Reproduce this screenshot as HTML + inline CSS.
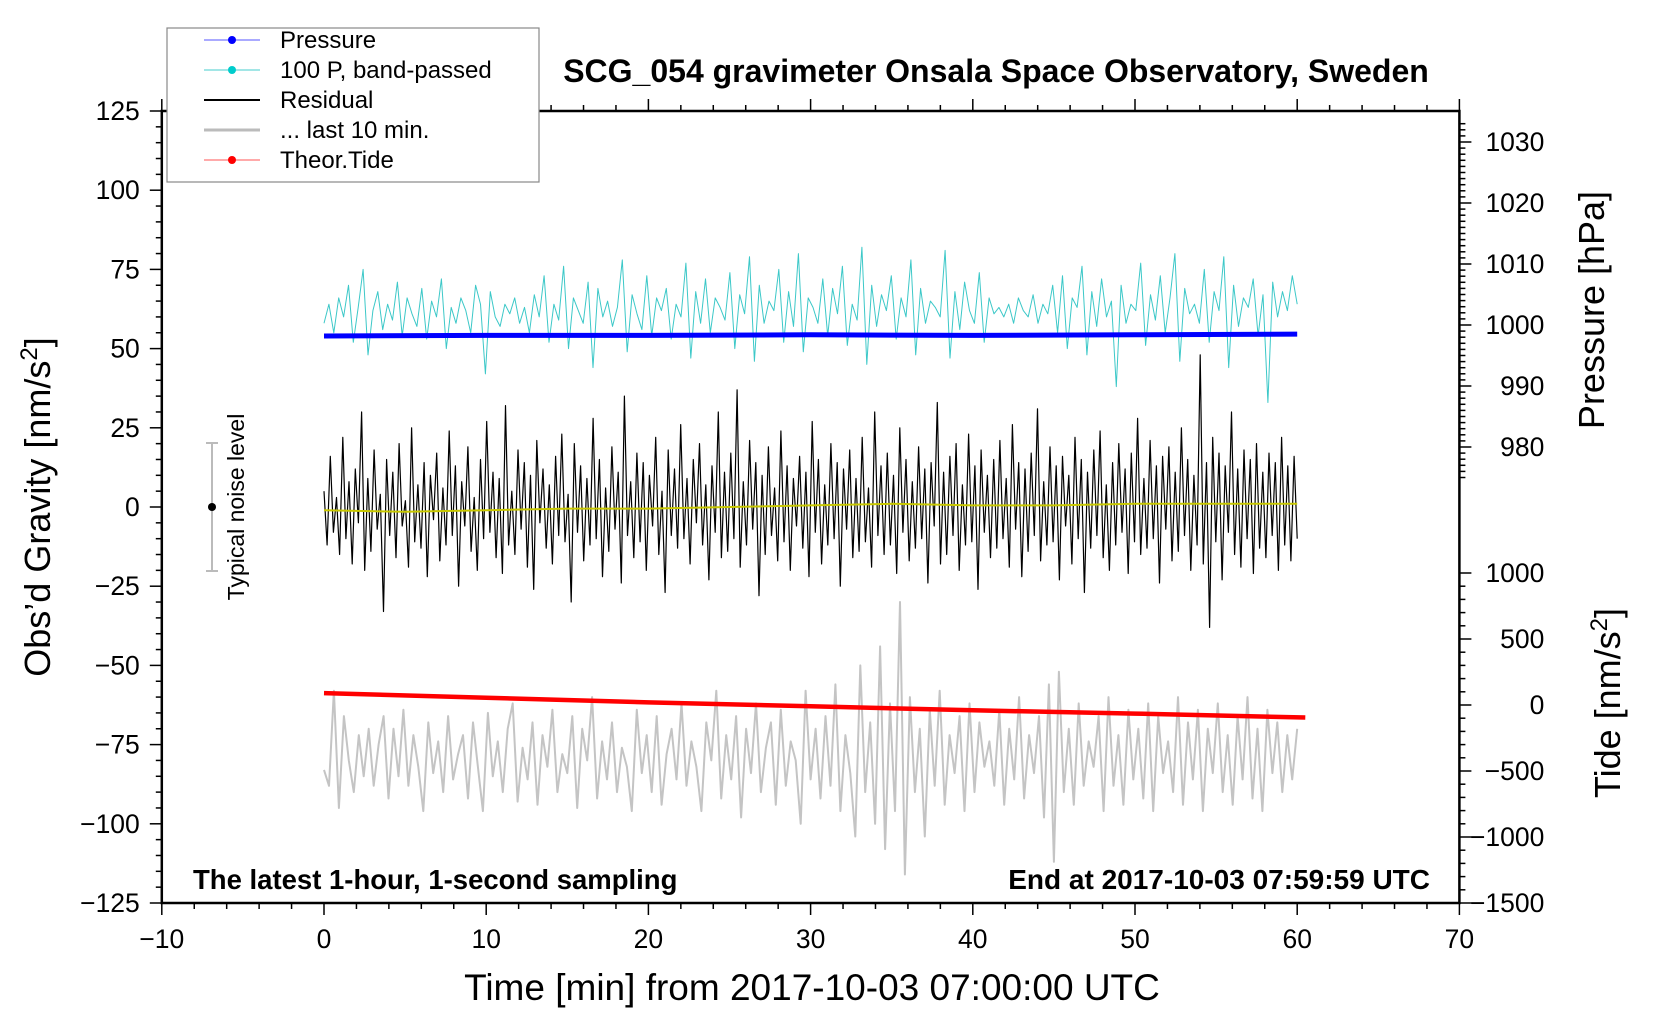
<!DOCTYPE html>
<html><head><meta charset="utf-8">
<style>
body{margin:0;background:#fff;}
svg{display:block;font-family:"Liberation Sans",sans-serif;}
</style></head>
<body>
<svg id="chart" width="1660" height="1020" viewBox="0 0 1660 1020">
<rect x="0" y="0" width="1660" height="1020" fill="#fff"/>
<g id="series"></g>
<g id="axes"></g>
<text x="996" y="82" font-size="32" font-weight="bold" text-anchor="middle">SCG_054 gravimeter Onsala Space Observatory, Sweden</text>
<text x="193" y="889" font-size="27.5" font-weight="bold">The latest 1‑hour, 1‑second sampling</text>
<text x="1430" y="889" font-size="28" font-weight="bold" text-anchor="end">End at 2017‑10‑03 07:59:59 UTC</text>
<text x="812" y="1000" font-size="37" text-anchor="middle">Time [min] from 2017‑10‑03 07:00:00 UTC</text>
<text transform="translate(50,507) rotate(-90)" font-size="36" text-anchor="middle">Obs’d Gravity [nm/s<tspan font-size="24" dy="-13">2</tspan><tspan dy="13">]</tspan></text>
<text transform="translate(1604,310) rotate(-90)" font-size="36" text-anchor="middle">Pressure [hPa]</text>
<text transform="translate(1620,703) rotate(-90)" font-size="36" text-anchor="middle">Tide [nm/s<tspan font-size="24" dy="-13">2</tspan><tspan dy="13">]</tspan></text>
<g>
<line x1="212" y1="443" x2="212" y2="571" stroke="#bbb" stroke-width="2"/>
<line x1="206" y1="443" x2="218" y2="443" stroke="#bbb" stroke-width="2"/>
<line x1="206" y1="571" x2="218" y2="571" stroke="#bbb" stroke-width="2"/>
<circle cx="212" cy="507" r="4" fill="#000"/>
<text transform="translate(244,507) rotate(-90)" font-size="23" text-anchor="middle">Typical noise level</text>
</g>
<g>
<rect x="167" y="28" width="372" height="154" fill="#fff" stroke="#888" stroke-width="1.2"/>
<g><line x1="204" y1="40" x2="260" y2="40" stroke="#55f" stroke-width="1"/><circle cx="232" cy="40" r="4" fill="#00f"/><text x="280" y="48" font-size="24">Pressure</text></g>
<g><line x1="204" y1="70" x2="260" y2="70" stroke="#4cc" stroke-width="1"/><circle cx="232" cy="70" r="4" fill="#0cc"/><text x="280" y="78" font-size="24">100 P, band‑passed</text></g>
<g><line x1="204" y1="100" x2="260" y2="100" stroke="#000" stroke-width="2"/><text x="280" y="108" font-size="24">Residual</text></g>
<g><line x1="204" y1="130" x2="260" y2="130" stroke="#bbb" stroke-width="3"/><text x="280" y="138" font-size="24">... last 10 min.</text></g>
<g><line x1="204" y1="160" x2="260" y2="160" stroke="#f55" stroke-width="1"/><circle cx="232" cy="160" r="4" fill="#f00"/><text x="280" y="168" font-size="24">Theor.Tide</text></g>
</g>
</svg>
<script>
// ---- data ----
const xTicks = [-10,0,10,20,30,40,50,60,70];
const yTicks = [125,100,75,50,25,0,-25,-50,-75,-100,-125];
const pTicks = [1030,1020,1010,1000,990,980];
const tideTicks = [1000,500,0,-500,-1000,-1500];
const pressureT = [0,10,20,30,40,50,60];
const pressureV = [998.2,998.3,998.3,998.4,998.3,998.4,998.5];
const tideT = [0,10,20,30,40,50,60.5];
const tideV = [90,55,20,-10,-40,-65,-95];
const cyanV = [58,64,55,66,60,70,52,63,75,48,62,68,56,64,59,71,54,66,61,57,69,53,65,60,72,50,63,58,66,62,55,70,64,42,68,60,57,64,61,66,58,63,55,67,60,73,52,64,59,76,50,66,62,58,71,44,69,60,65,57,63,78,49,67,61,56,73,54,66,62,69,53,64,60,77,47,68,58,72,55,66,63,59,74,50,67,61,79,46,70,58,65,62,75,52,68,57,80,49,66,63,58,72,54,69,61,76,51,64,59,82,45,70,57,67,62,73,53,66,60,78,48,69,58,65,63,60,81,47,68,56,71,62,58,74,52,66,61,63,60,64,58,66,62,60,67,58,64,61,70,55,73,50,66,63,76,48,68,57,72,60,65,38,70,58,64,62,77,51,67,59,73,55,66,80,46,69,61,64,58,75,52,68,62,79,44,70,57,66,63,72,54,67,33,71,60,68,62,73,64];
const residV = [5,-12,16,-8,3,-15,22,-10,8,-18,12,-5,30,-20,9,-14,18,-7,4,-33,15,-9,11,-16,20,-6,2,-19,25,-11,7,-13,14,-22,10,-4,17,-17,6,-12,24,-9,13,-25,8,-6,19,-14,3,-20,15,-10,27,-8,11,-16,9,-21,32,-12,5,-15,18,-7,14,-19,10,-26,21,-5,12,-13,7,-18,16,-9,23,-11,4,-30,20,-8,13,-17,9,-12,28,-10,15,-22,6,-14,19,-7,11,-24,35,-9,8,-16,17,-11,14,-20,10,-6,22,-15,5,-27,18,-9,12,-13,26,-10,9,-18,15,-5,20,-12,7,-23,13,-8,30,-16,11,-14,17,-10,37,-19,8,-12,21,-7,14,-28,10,-15,19,-9,6,-17,24,-11,13,-20,9,-6,16,-13,11,-22,27,-8,15,-18,7,-12,20,-10,14,-25,12,-7,18,-16,9,-14,22,-11,6,-19,30,-9,13,-15,17,-12,10,-21,25,-8,15,-17,8,-13,19,-10,12,-24,14,-6,33,-18,11,-15,16,-9,20,-20,7,-12,23,-11,13,-26,18,-8,10,-16,15,-13,21,-10,9,-19,26,-7,14,-22,12,-14,17,-9,31,-17,8,-12,19,-11,13,-23,16,-6,10,-18,22,-10,15,-27,11,-13,18,-9,24,-16,7,-20,14,-12,20,-8,12,-21,17,-11,28,-15,9,-13,21,-10,13,-24,16,-7,19,-17,11,-14,25,-9,15,-20,10,-12,48,-18,14,-38,22,-11,17,-23,13,-8,30,-15,12,-19,18,-10,15,-21,20,-13,11,-16,17,-9,14,-20,22,-12,13,-17,16,-10];
const yellowT = [0,5,10,15,20,25,30,35,40,45,50,55,60];
const yellowV = [-1,-1.5,-1,-0.5,-0.5,0,0.5,1,0.5,0.5,1,1,1];
const greyV = [-83,-88,-58,-95,-66,-80,-90,-72,-85,-70,-88,-75,-66,-92,-70,-85,-64,-88,-72,-82,-96,-68,-84,-74,-90,-66,-86,-78,-72,-92,-68,-82,-96,-65,-85,-74,-90,-70,-62,-93,-76,-86,-68,-94,-72,-82,-64,-90,-78,-84,-66,-95,-70,-80,-60,-92,-74,-86,-68,-90,-76,-82,-96,-64,-84,-72,-90,-66,-94,-78,-70,-86,-62,-88,-74,-82,-96,-68,-80,-58,-92,-72,-86,-66,-98,-70,-84,-62,-90,-76,-68,-94,-64,-88,-74,-80,-100,-58,-86,-70,-92,-66,-88,-56,-96,-72,-84,-104,-50,-90,-68,-100,-44,-108,-62,-96,-30,-116,-60,-90,-70,-104,-64,-88,-58,-94,-72,-84,-66,-96,-62,-90,-68,-82,-74,-88,-64,-94,-70,-86,-60,-92,-72,-84,-66,-98,-56,-112,-52,-90,-70,-94,-62,-88,-74,-82,-66,-96,-60,-88,-72,-94,-64,-86,-70,-92,-62,-96,-66,-84,-74,-90,-60,-94,-68,-86,-64,-96,-70,-84,-62,-90,-72,-94,-66,-86,-60,-92,-70,-96,-64,-84,-68,-90,-72,-86,-70];
const pressureRange = [975,1033];
const tideRange = [-1500,1000];

// ---- axis functions ----
const X = t => 324 + t*16.22;
const Y = v => 507 - v*3.168;
const YP = p => 325 - (p-1000)*6.1;
const YT = v => 705 - v*0.132;
const NS = 'http://www.w3.org/2000/svg';
function mk(tag, attrs, parent){const e=document.createElementNS(NS,tag);for(const k in attrs)e.setAttribute(k,attrs[k]);parent.appendChild(e);return e;}
const S = document.getElementById('series');
const A = document.getElementById('axes');

function line(pts, color, w, name){
  const p = mk('polyline',{points:pts.map(q=>q[0].toFixed(1)+','+q[1].toFixed(1)).join(' '),fill:'none',stroke:color,'stroke-width':w,'stroke-linejoin':'round'},S);
  
  
  return p;
}
line(greyV.map((v,i)=>[X(i*60/(greyV.length-1)), Y(v)]), '#c4c4c4', 2, 'last-10-min-series');
line(tideT.map((t,i)=>[X(t), YT(tideV[i])]), '#f00', 4.5, 'theor-tide-series');
line(cyanV.map((v,i)=>[X(i*60/(cyanV.length-1)), Y(v)]), '#3cc8c8', 1, 'band-passed-pressure-series');
line(residV.map((v,i)=>[X(i*60/(residV.length-1)), Y(v)]), '#000', 1.2, 'residual-series');
line(yellowT.map((t,i)=>[X(t), Y(yellowV[i])]), '#c8c800', 2, 'residual-smoothed-series');
line(pressureT.map((t,i)=>[X(t), YP(pressureV[i])]), '#0000ff', 5, 'pressure-series');

// ---- axes ----
const L=X(-10), R=X(70), T=Y(125), B=Y(-125);
const frame = mk('rect',{x:L,y:T,width:R-L,height:B-T,fill:'none',stroke:'#000','stroke-width':2.5},A);


function tick(x1,y1,x2,y2){mk('line',{x1,y1,x2,y2,stroke:'#000','stroke-width':1.5},A);}
for(let t=-10;t<=70;t+=2){const maj=t%10===0;tick(X(t),B,X(t),B+(maj?12:6));tick(X(t),T,X(t),T-(maj?12:6));}
for(let v=-125;v<=125;v+=5){const maj=v%25===0;tick(L,Y(v),L-(maj?12:6),Y(v));}
for(let p=pressureRange[0];p<=pressureRange[1];p+=1){const maj=p%10===0;tick(R,YP(p),R+(maj?12:6),YP(p));}
for(let v=tideRange[0];v<=tideRange[1];v+=100){const maj=v%500===0;tick(R,YT(v),R+(maj?12:6),YT(v));}
function lab(x,y,s,anchor,name){const e=mk('text',{x,y,'font-size':26.5,'text-anchor':anchor},A);e.textContent=s;}
const fmt = v => String(v).replace('-','\u2212');
xTicks.forEach(t=>lab(X(t),B+45,fmt(t),'middle','x-tick-label'));
yTicks.forEach(v=>lab(L-22,Y(v)+9,fmt(v),'end','y-tick-label'));
pTicks.forEach(p=>lab(R+85,YP(p)+9,fmt(p),'end','pressure-tick-label'));
tideTicks.forEach(v=>lab(R+85,YT(v)+9,fmt(v),'end','tide-tick-label'));
</script>
</body></html>
